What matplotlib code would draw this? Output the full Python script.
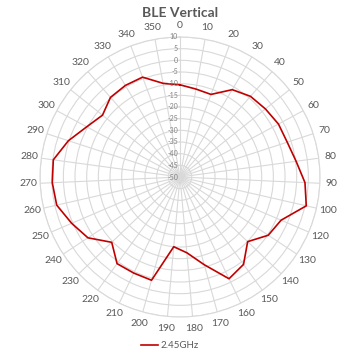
import matplotlib.pyplot as plt
import numpy as np

# categories as they appear on the chart (110 is missing in the source data)
angles = [0, 10, 20, 30, 40, 50, 60, 70, 80, 90, 100, 120, 130, 140, 150, 160,
          170, 180, 190, 200, 210, 220, 230, 240, 250, 260, 270, 280, 290, 300,
          310, 320, 330, 340, 350]
gain = [-10.5, -11.7, -12.2, -6.4, -4.1, -3.2, -2.1, -1.7, 0.2, 3.6, 5.5,
        -2.9, -4.7, -9.9, -3.7, -1.6, -11.0, -17.4, -20.0, -4.1, -4.3, -4.1,
        -9.5, -2.7, 0.5, 4.2, 4.8, 4.8, 0.3, -4.6, -7.5, -4.7, -4.3, -4.3, -9.2]
r_ticks = list(range(-50, 11, 5))

plt.rcParams['font.family'] = ['Lato', 'DejaVu Sans']
grey = '#595959'

fig = plt.figure(figsize=(3.47, 3.54), dpi=100)
ax = fig.add_axes([0.1153, 0.1045, 0.807, 0.791], projection='polar')
ax.set_theta_zero_location('N')
ax.set_theta_direction(-1)

n = len(angles)
theta = np.arange(n) * 2 * np.pi / n
ax.plot(np.append(theta, theta[0]), np.append(gain, gain[0]),
        color='#c00000', linewidth=1.2, label='2.45GHz')

ax.set_ylim(-50, 10)
ax.set_yticks(r_ticks)
ax.set_yticklabels([])
for v in r_ticks:
    ax.annotate(str(v), xy=(0, v), xytext=(-1.5, 0), textcoords='offset points',
                ha='right', va='center', fontsize=5, color='#808080')

ax.set_xticks(theta)
ax.set_xticklabels([str(a) for a in angles])
ax.tick_params(axis='x', labelsize=7.5, labelcolor=grey, pad=-2)
ax.grid(True, color='#d9d9d9', linewidth=0.8)
ax.spines['polar'].set_color('#d9d9d9')
ax.spines['polar'].set_linewidth(0.8)

fig.text(0.519, 0.963, 'BLE Vertical', ha='center', va='center',
         fontsize=10, fontweight='bold', color=grey)
fig.legend(loc='center', bbox_to_anchor=(0.49, 0.023), frameon=False,
           fontsize=7, labelcolor=grey, handlelength=1.7, handletextpad=0.3)

plt.savefig('out.png', dpi=100)
